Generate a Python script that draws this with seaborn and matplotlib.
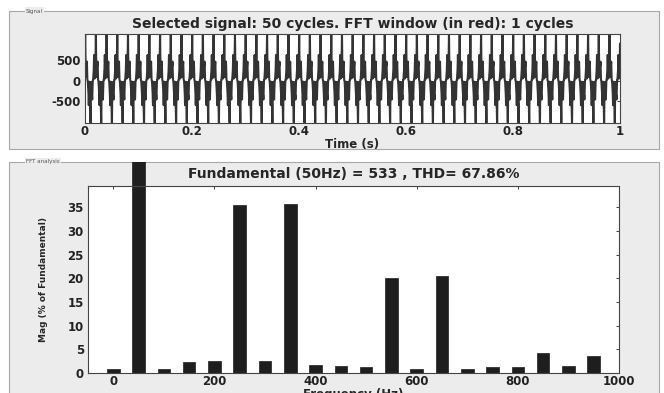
import numpy as np
import pandas as pd
import matplotlib.pyplot as plt
import seaborn as sns
from matplotlib.patches import Rectangle

# Harmonic spectrum (magnitude in % of fundamental)
freqs = [0, 50, 100, 150, 200, 250, 300, 350, 400, 450,
         500, 550, 600, 650, 700, 750, 800, 850, 900, 950]
mags = [0.9, 100, 0.75, 2.3, 2.5, 35.5, 2.5, 35.8, 1.6, 1.4,
        1.3, 20.1, 0.85, 20.4, 0.9, 1.25, 1.25, 4.3, 1.5, 3.5]
# phase (deg) of each component, used to rebuild the time trace
phases = [90, 90, 0, 0, 0, 90, 0, 90, 0, 0,
          0, 0, 0, 0, 0, 0, 0, 0, 0, 0]
fundamental = 533
thd = 67.86
n_cycles = 50

x_ticks = [0, 200, 400, 600, 800, 1000]
y_ticks = [0, 5, 10, 15, 20, 25, 30, 35]
t_ticks = [0, 0.2, 0.4, 0.6, 0.8, 1]
t_labels = ['0', '0.2', '0.4', '0.6', '0.8', '1']
sig_ticks = [-500, 0, 500]

# Rebuild the time signal from the read spectrum
t = np.linspace(0, 1, 20001)
sig = np.zeros_like(t)
for f, m, p in zip(freqs, mags, phases):
    sig += fundamental * m / 100 * np.sin(2 * np.pi * f * t + np.deg2rad(p))
signal_df = pd.DataFrame({'time': t, 'signal': sig})
fft_df = pd.DataFrame({'freq': freqs, 'mag': mags})

sns.set_theme(style='white')
plt.rcParams['font.family'] = ['DejaVu Sans']
plt.rcParams['font.weight'] = 'bold'
plt.rcParams['axes.unicode_minus'] = False

fig = plt.figure(figsize=(6.64, 3.93), dpi=100)
fig.patch.set_facecolor('white')

panel_face = '#ececec'
panel_edge = '#a8a8a8'

# Panel frames (group boxes)
top_panel = Rectangle((9 / 664, 1 - 149 / 393), 650 / 664, 138 / 393, transform=fig.transFigure,
                      facecolor=panel_face, edgecolor=panel_edge, linewidth=0.8, zorder=-2)
bot_panel = Rectangle((9 / 664, -0.05), 650 / 664, 1 - 162 / 393 + 0.05, transform=fig.transFigure,
                      facecolor=panel_face, edgecolor=panel_edge, linewidth=0.8, zorder=-2)
fig.patches.extend([top_panel, bot_panel])
box = dict(facecolor=panel_face, edgecolor='none', pad=1)
fig.text(26 / 664, 1 - 11 / 393, 'Signal', fontsize=4, fontweight='normal', color='#555555',
         va='center', ha='left', bbox=box)
fig.text(26 / 664, 1 - 162 / 393, 'FFT analysis', fontsize=4, fontweight='normal', color='#555555',
         va='center', ha='left', bbox=box)

# Signal axes
ax1 = fig.add_axes([85 / 664, 1 - 123 / 393, 535 / 664, 89 / 393])
sns.lineplot(data=signal_df, x='time', y='signal', ax=ax1, estimator=None, sort=False,
             color='#333333', linewidth=1.5)
ax1.set_xlim(0, 1)
ax1.set_ylim(sig.min(), sig.max())
ax1.set_xticks(t_ticks)
ax1.set_xticklabels(t_labels)
ax1.set_yticks(sig_ticks)
ax1.set_ylabel('')
ax1.set_title('Selected signal: %d cycles. FFT window (in red): 1 cycles' % n_cycles,
              fontsize=10, fontweight='bold', pad=4)

# FFT axes
ax2 = fig.add_axes([88 / 664, 1 - 373 / 393, 531 / 664, 187 / 393])
sns.barplot(data=fft_df, x='freq', y='mag', ax=ax2, native_scale=True, width=0.5,
            color='#1e1e1e', saturation=1, edgecolor='#1e1e1e', linewidth=0.5)
for bar in ax2.patches:
    bar.set_clip_path(bot_panel)
ax2.set_xlim(-50, 1000)
ax2.set_ylim(0, 39.5)
ax2.set_xticks(x_ticks)
ax2.set_yticks(y_ticks)
ax2.set_ylabel('Mag (% of Fundamental)', fontsize=6.5, fontweight='bold', labelpad=14)
ax2.set_title('Fundamental (50Hz) = %d , THD= %.2f%%' % (fundamental, thd),
              fontsize=10, fontweight='bold', pad=6)

for ax in (ax1, ax2):
    ax.set_facecolor('white')
    ax.tick_params(direction='in', top=True, right=True, length=2.5, width=0.6,
                   labelsize=8.5, pad=3, colors='#222222')
    ax.tick_params(axis='x', pad=1.5)
    for lbl in ax.get_xticklabels() + ax.get_yticklabels():
        lbl.set_fontweight('bold')
    for s in ax.spines.values():
        s.set_color('#444444')
        s.set_linewidth(0.8)

ax1.set_xlabel('Time (s)', fontsize=8.5, fontweight='bold', labelpad=0)
ax2.set_xlabel('Frequency (Hz)', fontsize=8.5, fontweight='bold', labelpad=0)

fig.savefig('out.png', dpi=100)
